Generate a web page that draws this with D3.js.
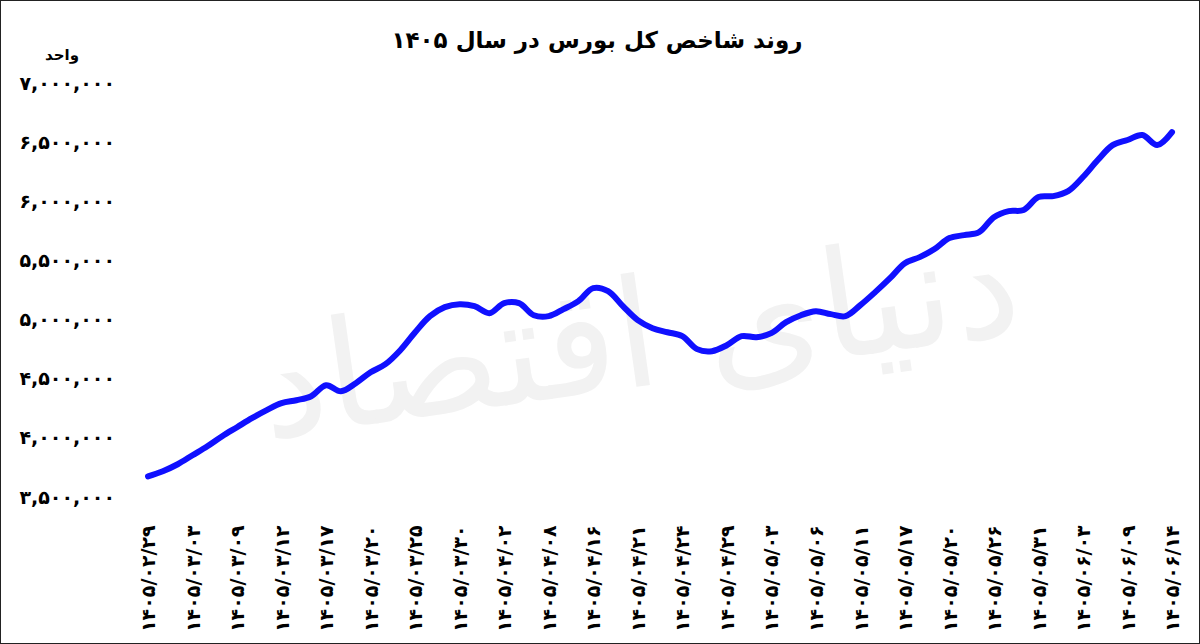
<!DOCTYPE html>
<html><head><meta charset="utf-8">
<script src="https://cdn.jsdelivr.net/npm/d3@7"></script>
<style>body{margin:0;background:#fff}svg{display:block}</style>
</head><body><svg id="c" width="1200" height="644"></svg>
<script>
const title = "روند شاخص کل بورس در سال ۱۴۰۵";
const unitLabel = "واحد";
const dateLabels = ["1405/02/29","1405/03/03","1405/03/09","1405/03/12","1405/03/17","1405/03/20","1405/03/25","1405/03/30","1405/04/02","1405/04/08","1405/04/16","1405/04/21","1405/04/24","1405/04/29","1405/05/03","1405/05/06","1405/05/11","1405/05/17","1405/05/20","1405/05/26","1405/05/31","1405/06/03","1405/06/09","1405/06/14"];
// index values (thousands), 3 samples per labelled interval
const values = [3675,3718,3777,3853,3929,4014,4090,4166,4234,4293,4318,4352,4445,4394,4462,4555,4623,4741,4893,5029,5105,5130,5113,5054,5139,5139,5037,5029,5088,5156,5266,5240,5113,4995,4927,4893,4860,4750,4733,4783,4860,4851,4885,4978,5037,5071,5046,5029,5122,5232,5350,5477,5528,5596,5689,5714,5739,5866,5917,5926,6036,6044,6086,6205,6349,6475,6518,6560,6475,6585].map(v=>v*1000);
const yTicks = [3500000,4000000,4500000,5000000,5500000,6000000,6500000,7000000];

const fa = s => String(s).replace(/\d/g,d=>"۰۱۲۳۴۵۶۷۸۹"[d]);
const svg = d3.select("#c");
svg.append("rect").attr("x",0.5).attr("y",0.5).attr("width",1199).attr("height",643).attr("fill","#fff").attr("stroke","#222");
svg.append("text").attr("x",640).attr("y",345).attr("text-anchor","middle").attr("dominant-baseline","middle")
  .attr("font-family","DejaVu Sans").attr("font-size",150).attr("fill","#f2f2f2").attr("transform","rotate(-8,640,345)")
  .attr("direction","rtl").text("دنیای اقتصاد");

const x = d3.scaleLinear().domain([0,dateLabels.length-1]).range([148,1172]);
const xi = d3.scaleLinear().domain([0,values.length-1]).range([148,1172]);
const y = d3.scaleLinear().domain([3500000,7000000]).range([497,83]);

svg.append("text").attr("x",597).attr("y",48).attr("text-anchor","middle").attr("font-family","DejaVu Sans")
  .attr("font-weight","bold").attr("font-size",23).attr("direction","rtl").text(title);
svg.append("text").attr("x",62).attr("y",60).attr("text-anchor","middle").attr("font-family","DejaVu Sans")
  .attr("font-weight","bold").attr("font-size",15).attr("direction","rtl").text(unitLabel);

const yAx = svg.append("g").attr("transform","translate(115,0)")
  .call(d3.axisLeft(y).tickValues(yTicks).tickSize(0).tickPadding(0).tickFormat(d=>fa(d3.format(",")(d))));
yAx.select(".domain").remove();
yAx.selectAll("text").attr("font-family","DejaVu Sans").attr("font-weight","bold").attr("font-size",19).attr("fill","#000").attr("direction","ltr");

const xAx = svg.append("g").attr("transform","translate(0,512)")
  .call(d3.axisBottom(x).tickValues(d3.range(dateLabels.length)).tickSize(0).tickFormat(i=>fa(dateLabels[i])));
xAx.select(".domain").remove();
xAx.selectAll(".tick text").attr("font-family","DejaVu Sans").attr("font-weight","bold").attr("font-size",19).attr("fill","#000")
  .attr("direction","ltr").attr("dy","0.35em").attr("y",0).attr("transform","rotate(-90)").attr("x",-120).attr("text-anchor","start");

svg.append("path").datum(values).attr("fill","none").attr("stroke","#1010ff").attr("stroke-width",6)
  .attr("stroke-linecap","round").attr("stroke-linejoin","round")
  .attr("d",d3.line().x((d,i)=>xi(i)).y(d=>y(d)).curve(d3.curveCatmullRom));
</script></body></html>
